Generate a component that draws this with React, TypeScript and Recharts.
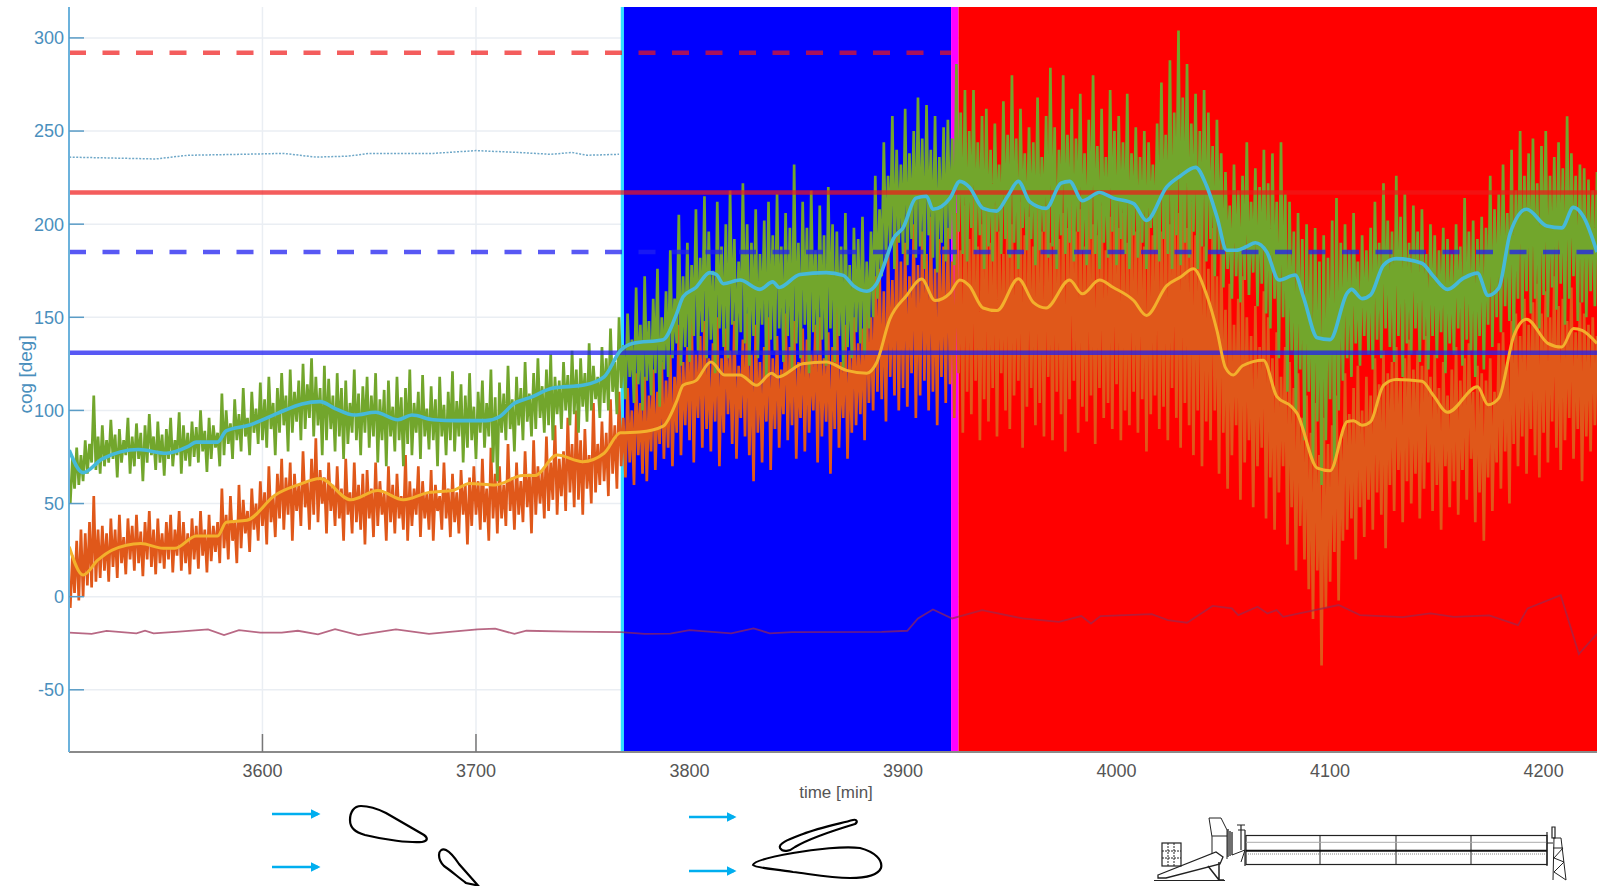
import { CartesianGrid, ComposedChart, Line, ReferenceArea, XAxis, YAxis } from "recharts";

const WIDTH = 1608;
const HEIGHT = 886;

const xTicks = [3600, 3700, 3800, 3900, 4000, 4100, 4200];
const yTicks = [-50, 0, 50, 100, 150, 200, 250, 300];

// raw signals, one sample per minute from 3510
const SAMPLE_START = 3510;

const greenSignal = [
  50, 74, 58, 80, 60, 76, 62, 84, 66, 82,
  72, 108, 68, 86, 66, 92, 70, 84, 72, 95,
  74, 87, 64, 90, 72, 84, 76, 96, 66, 86,
  70, 93, 74, 88, 62, 92, 72, 98, 76, 86,
  68, 94, 72, 87, 65, 90, 74, 96, 70, 84,
  76, 99, 66, 92, 73, 88, 70, 94, 75, 91,
  72, 100, 78, 89, 67, 96, 74, 92, 80, 88,
  70, 109, 76, 100, 82, 93, 74, 106, 84, 98,
  78, 112, 86, 96, 76, 110, 88, 101, 82, 115,
  84, 106, 80, 118, 90, 104, 76, 112, 88, 120,
  92, 108, 78, 122, 88, 110, 94, 116, 84, 125,
  90, 114, 96, 128, 86, 118, 92, 112, 76, 124,
  84, 117, 90, 108, 78, 120, 86, 112, 74, 116,
  82, 104, 88, 122, 84, 109, 76, 113, 88, 118,
  80, 108, 86, 120, 72, 106, 84, 111, 70, 116,
  86, 102, 78, 118, 84, 107, 70, 112, 82, 122,
  76, 104, 88, 110, 74, 119, 86, 101, 79, 113,
  84, 106, 70, 118, 86, 103, 76, 110, 84, 121,
  78, 105, 86, 114, 72, 108, 80, 120, 84, 102,
  74, 110, 88, 116, 80, 104, 86, 122, 72, 107,
  62, 115, 88, 109, 84, 124, 90, 106, 78, 118,
  92, 112, 84, 126, 94, 109, 86, 120, 90, 128,
  96, 113, 88, 122, 92, 130, 84, 118, 98, 116,
  90, 126, 100, 119, 92, 132, 98, 122, 88, 128,
  102, 120, 94, 136, 100, 124, 106, 118, 96, 134,
  104, 128, 100, 144, 110, 126, 98, 150, 112, 135,
  106, 152, 118, 138, 104, 166, 114, 146, 100, 172,
  116, 148, 108, 160, 120, 176, 102, 150, 122, 164,
  118, 186, 128, 160, 136, 205, 124, 172, 134, 190,
  126, 178, 140, 208, 132, 182, 142, 215, 128, 196,
  138, 175, 120, 212, 144, 188, 134, 200, 128, 218,
  146, 192, 130, 180, 142, 222, 136, 200, 124, 190,
  140, 208, 128, 184, 146, 202, 118, 212, 138, 194,
  132, 216, 144, 188, 126, 206, 140, 198, 122, 232,
  136, 190, 128, 212, 146, 198, 120, 218, 142, 186,
  130, 210, 138, 194, 124, 220, 144, 200, 126, 196,
  140, 188, 122, 206, 134, 178, 128, 198, 142, 192,
  136, 204, 130, 180, 144, 196, 150, 226, 160, 208,
  172, 244, 180, 226, 188, 258, 176, 240, 190, 232,
  184, 262, 178, 238, 192, 250, 182, 268, 188, 246,
  176, 264, 194, 240, 182, 258, 174, 236, 190, 252,
  180, 256, 192, 246, 178, 286, 196, 260, 184, 272,
  180, 250, 198, 272, 186, 244, 194, 258, 176, 262,
  188, 240, 180, 254, 196, 232, 184, 266, 192, 248,
  182, 280, 190, 246, 176, 262, 198, 238, 186, 252,
  192, 244, 178, 268, 186, 236, 196, 258, 182, 284,
  188, 252, 176, 240, 194, 280, 184, 248, 190, 262,
  180, 246, 196, 270, 186, 238, 178, 256, 192, 280,
  184, 242, 176, 262, 190, 236, 182, 272, 196, 250,
  178, 258, 192, 244, 184, 270, 176, 238, 194, 252,
  182, 236, 190, 250, 176, 244, 198, 232, 186, 254,
  180, 276, 192, 248, 184, 288, 176, 260, 194, 304,
  178, 268, 190, 286, 182, 254, 196, 270, 176, 250,
  188, 272, 180, 260, 192, 242, 172, 256, 184, 238,
  166, 228, 176, 210, 160, 232, 172, 218, 158, 226,
  170, 244, 162, 212, 174, 230, 156, 220, 168, 240,
  152, 222, 144, 238, 160, 212, 128, 244, 150, 216,
  110, 212, 132, 196, 100, 206, 122, 192, 84, 200,
  110, 186, 72, 198, 94, 180, 60, 194, 84, 182,
  106, 202, 70, 214, 100, 190, 116, 200, 128, 186,
  118, 206, 136, 180, 124, 194, 140, 186, 130, 198,
  122, 212, 138, 190, 128, 222, 144, 202, 134, 196,
  126, 226, 140, 204, 118, 216, 136, 190, 130, 210,
  144, 196, 126, 208, 138, 184, 122, 200, 140, 194,
  128, 186, 142, 198, 120, 192, 136, 184, 130, 200,
  144, 188, 124, 214, 138, 196, 132, 202, 118, 192,
  140, 204, 122, 198, 146, 226, 134, 208, 150, 216,
  142, 232, 156, 206, 148, 240, 138, 218, 160, 250,
  148, 226, 164, 238, 152, 246, 160, 222, 144, 242,
  162, 250, 150, 226, 166, 236, 154, 244, 168, 230,
  146, 258, 160, 238, 172, 226, 148, 232, 158, 230,
  150, 224, 164, 218, 156, 228,
];
const orangeSignal = [
  -6, 22, 2, 30, -2, 36, 0, 34, 6, 40,
  5, 54, 8, 36, 10, 38, 14, 34, 8, 42,
  16, 36, 10, 44, 18, 32, 12, 42, 20, 38,
  14, 44, 18, 35, 11, 40, 20, 46, 16, 36,
  12, 42, 18, 34, 15, 40, 20, 44, 13, 36,
  22, 46, 14, 40, 18, 34, 12, 42, 20, 38,
  15, 46, 22, 36, 13, 44, 19, 38, 24, 40,
  18, 58, 26, 44, 20, 54, 30, 40, 18, 60,
  26, 52, 34, 46, 24, 58, 36, 50, 30, 62,
  38, 56, 28, 70, 40, 54, 32, 66, 42, 74,
  36, 64, 44, 72, 30, 66, 46, 60, 38, 78,
  48, 62, 36, 74, 44, 85, 40, 68, 50, 64,
  34, 72, 46, 60, 38, 70, 42, 58, 30, 74,
  44, 56, 34, 72, 40, 60, 36, 66, 28, 68,
  42, 58, 32, 72, 38, 62, 44, 56, 30, 70,
  40, 60, 34, 66, 42, 54, 36, 76, 30, 62,
  38, 58, 44, 70, 32, 62, 42, 56, 36, 68,
  30, 60, 46, 54, 36, 72, 42, 58, 32, 66,
  40, 56, 34, 68, 44, 60, 28, 64, 38, 70,
  44, 62, 36, 74, 40, 58, 30, 80, 42, 66,
  34, 70, 42, 60, 38, 82, 46, 64, 36, 72,
  44, 62, 40, 78, 48, 66, 34, 84, 44, 70,
  50, 68, 42, 86, 46, 72, 52, 92, 44, 74,
  54, 78, 46, 96, 56, 82, 48, 100, 52, 84,
  44, 90, 58, 76, 50, 104, 56, 82, 60, 94,
  62, 88, 54, 106, 66, 92, 58, 110, 70, 96,
  64, 112, 72, 100, 60, 120, 76, 104, 66, 118,
  62, 108, 78, 122, 68, 110, 82, 126, 74, 116,
  80, 130, 70, 118, 88, 146, 76, 126, 92, 134,
  84, 152, 72, 130, 96, 140, 80, 148, 90, 128,
  78, 136, 94, 150, 70, 128, 88, 144, 98, 132,
  82, 148, 74, 124, 96, 138, 86, 152, 76, 130,
  62, 146, 88, 126, 72, 134, 94, 150, 68, 128,
  90, 140, 80, 122, 98, 152, 84, 134, 92, 148,
  74, 126, 96, 144, 78, 138, 88, 130, 100, 146,
  72, 150, 86, 128, 94, 142, 66, 134, 90, 156,
  80, 126, 96, 146, 74, 132, 88, 150, 92, 136,
  98, 144, 84, 160, 104, 150, 100, 172, 110, 176,
  106, 164, 94, 186, 118, 170, 108, 196, 100, 180,
  112, 190, 102, 172, 120, 200, 96, 178, 108, 196,
  116, 184, 100, 204, 110, 176, 92, 192, 118, 188,
  104, 198, 114, 180, 96, 206, 120, 186, 88, 210,
  110, 192, 98, 214, 116, 188, 84, 200, 106, 216,
  94, 190, 112, 210, 86, 196, 120, 184, 100, 218,
  90, 200, 108, 186, 116, 212, 80, 194, 102, 204,
  112, 188, 92, 216, 104, 196, 86, 208, 118, 190,
  84, 214, 110, 192, 98, 206, 78, 198, 106, 220,
  116, 196, 88, 208, 102, 188, 94, 214, 108, 200,
  82, 194, 112, 210, 96, 186, 104, 204, 90, 218,
  114, 198, 84, 206, 100, 190, 92, 212, 110, 196,
  88, 214, 106, 188, 78, 202, 98, 194, 108, 218,
  90, 196, 102, 210, 84, 200, 112, 216, 96, 206,
  80, 220, 104, 198, 92, 212, 76, 194, 100, 208,
  70, 188, 94, 176, 84, 198, 100, 172, 66, 186,
  88, 154, 58, 168, 76, 146, 92, 160, 52, 172,
  72, 150, 84, 140, 48, 156, 70, 134, 80, 164,
  42, 150, 64, 128, 36, 142, 56, 118, 70, 134,
  28, 126, 48, 112, 14, 120, 38, 96, 20, 108,
  4, 88, -12, 104, 14, 76, -37, 96, -6, 82,
  8, 92, 24, 108, -2, 84, 30, 120, 36, 98,
  42, 112, 20, 124, 48, 100, 32, 118, 52, 108,
  36, 128, 56, 114, 44, 132, 26, 120, 60, 126,
  46, 134, 68, 116, 40, 128, 62, 138, 50, 122,
  66, 132, 42, 124, 58, 140, 72, 118, 46, 130,
  60, 112, 36, 126, 70, 108, 48, 122, 62, 134,
  44, 116, 68, 128, 52, 136, 74, 110, 40, 124,
  56, 120, 30, 116, 64, 128, 46, 110, 72, 136,
  58, 142, 78, 126, 50, 148, 82, 152, 70, 140,
  86, 160, 66, 146, 90, 158, 76, 168, 64, 152,
  88, 164, 72, 150, 94, 172, 80, 156, 68, 160,
  84, 148, 96, 166, 74, 142, 90, 158, 62, 152,
  86, 146, 78, 150, 92, 140,
];

// smoothed signals, read point by point
const cyanTime = [3509.5, 3516, 3525, 3542, 3555, 3565, 3569, 3579, 3583, 3593.6, 3607, 3618.5, 3627, 3634, 3643, 3653, 3663.4, 3670, 3680, 3691, 3704.5, 3711, 3718, 3725.6, 3736, 3750.6, 3760, 3767.6, 3773.6, 3787.7, 3794, 3797, 3803, 3809.5, 3812.6, 3815.8, 3823.6, 3833, 3839, 3842, 3851.7, 3864, 3872, 3876.7, 3883, 3887.6, 3892, 3895.4, 3900, 3906, 3911, 3914, 3922, 3926.6, 3931, 3937.5, 3943.8, 3949, 3954, 3959.4, 3967, 3974, 3978, 3984, 3992, 3998.5, 4008, 4014, 4023.5, 4030, 4037, 4042, 4047, 4051.6, 4056, 4061, 4065, 4070.4, 4076, 4083.6, 4087.5, 4094, 4100, 4108, 4110, 4115, 4119, 4125, 4131, 4143, 4148.4, 4155, 4162.5, 4169, 4174, 4179, 4184.3, 4192, 4201.5, 4208.5, 4214, 4218.7, 4225];
const cyanValue = [78.7, 66.6, 74, 79, 77, 80.5, 83, 83, 89, 92, 98.4, 103.5, 104.7, 101, 97.5, 99, 95, 97.5, 95, 94.5, 94.5, 96.6, 103.8, 107, 112, 113.6, 118, 132, 136, 138, 152, 161, 166, 174, 173, 168, 170, 165, 169, 166, 173, 174, 172.5, 167, 164, 168, 181, 192, 198, 214, 215, 208, 214, 223, 220, 208.5, 207, 215, 223, 212, 208.5, 222, 223, 212.6, 217, 214, 211, 202, 220, 226, 230.5, 221, 204, 186, 186, 188, 190, 185, 170, 172.7, 161, 139, 138, 163, 165, 160, 162, 178, 181.5, 179, 172, 165, 171, 173.7, 161.7, 165.7, 195, 208, 199, 198, 209, 204, 185];
const yellowTime = [3509.5, 3516, 3523, 3529.6, 3543, 3553.5, 3559, 3569, 3579, 3583, 3592.7, 3606, 3616.6, 3627, 3641.4, 3654, 3666, 3678, 3689, 3697, 3709, 3722, 3727.5, 3738, 3750, 3760, 3767.6, 3776.7, 3787.7, 3794, 3797, 3803, 3810, 3816.5, 3823.6, 3831.4, 3838.4, 3841.5, 3853, 3864, 3873.5, 3883, 3887.6, 3893.8, 3901.6, 3908.7, 3915, 3922, 3926.6, 3931, 3937.5, 3944, 3954, 3961, 3967, 3978, 3984, 3992, 3998.5, 4008, 4014, 4023.5, 4030, 4036, 4042, 4047, 4051, 4054.7, 4059, 4068.8, 4075, 4082, 4084.4, 4094, 4100, 4108, 4111, 4115, 4119, 4125, 4131, 4143, 4148.4, 4155, 4169, 4174, 4179, 4186, 4192, 4202, 4208.5, 4214, 4218, 4225];
const yellowValue = [26.8, 11.6, 19.7, 25, 28.6, 26, 26, 32.6, 32.6, 40, 41, 54.6, 60, 63.5, 52, 57, 52, 56, 57, 60.8, 60, 65, 65, 76, 72.5, 77, 88, 88.4, 91.6, 105, 113.5, 116, 126, 119, 119, 113.5, 120, 118, 125, 126, 121.5, 120, 125.6, 149, 161.6, 170.5, 159, 163, 170, 167, 155, 153.6, 170.7, 158, 155, 170, 162.6, 170, 166, 159, 151, 167, 171.6, 176, 162.6, 143, 123, 119, 124, 127, 107.6, 102, 98.7, 69, 67.6, 94, 94.5, 92, 94, 113.5, 116.6, 115.7, 108, 99, 112.7, 103, 106.6, 140, 149, 136, 134, 144, 143, 136];
const pinkTime = [3509.5, 3520, 3527, 3541, 3545, 3549, 3561, 3574.5, 3582, 3589, 3599, 3609, 3616.6, 3626, 3634, 3645, 3662.5, 3678, 3689, 3700.7, 3709, 3718, 3723.6, 3744.7, 3768, 3779, 3791, 3800, 3819.5, 3830, 3837.6, 3848, 3890, 3902, 3907, 3914, 3923, 3937, 3956, 3973, 3983.5, 3988, 3992.5, 4016.5, 4024, 4033, 4045, 4054, 4057, 4066, 4070.7, 4075, 4078, 4104, 4114, 4134, 4147, 4158, 4174.5, 4188, 4192.5, 4208, 4216.5, 4225];
const pinkValue = [-19.3, -20, -18.4, -19.7, -18.3, -19.7, -18.8, -17.6, -20.6, -18, -19.3, -19.3, -18.3, -20.2, -17.4, -20.6, -17.6, -20, -18.8, -17.6, -17.2, -20, -18.3, -18.8, -19, -20, -19.8, -18, -19.7, -17, -19.7, -19, -18.9, -18.3, -11.7, -6.9, -11.7, -7.2, -11.7, -13.5, -10.4, -14.4, -10.4, -9.4, -12.6, -14, -5, -6.3, -9.9, -5.4, -9, -7.2, -10.8, -4.5, -9.9, -11, -9, -10.8, -10, -15.3, -6.3, 0.8, -30.8, -20];
const dottedTime = [3509.5, 3530, 3550, 3565, 3590, 3610, 3625, 3640, 3650, 3680, 3700, 3720, 3735, 3745, 3752, 3767];
const dottedValue = [236, 235.5, 235, 237, 237.5, 238, 236, 236.5, 238, 238, 239.5, 238.5, 237.5, 238.5, 237, 237.5];

const X_MIN = 3509.4;
const X_MAX = 4225;
const Y_MIN = -83.4;
const Y_MAX = 316.6;

const CYAN_START = 3767.8;
const BLUE_START = 3769.3;
const BLUE_END = 3922.5;
const MAGENTA_END = 3926;

const RED_SOLID = 217;
const RED_DASHED = 292;
const BLUE_SOLID = 131;
const BLUE_DASHED = 185;

const signal = (values: number[]) => values.map((value, i) => ({ time: SAMPLE_START + i, value }));
const zip = (time: number[], value: number[]) => time.map((t, i) => ({ time: t, value: value[i] }));
const flat = (value: number, end = X_MAX) => [
  { time: X_MIN, value },
  { time: end, value },
];

const XTick = ({ x, y, payload }: any) => (
  <g>
    {payload.value < BLUE_START && <line x1={x} x2={x} y1={y - 14} y2={y - 32} stroke="#777" strokeWidth={1.5} />}
    <text x={x} y={y + 11} textAnchor="middle" fontSize={18} fill="#555" fontFamily="Liberation Sans">
      {payload.value}
    </text>
  </g>
);

// foils and rig under the plot
const Sketches = () => (
  <svg width={WIDTH} height={HEIGHT} style={{ position: "absolute", left: 0, top: 0 }}>
    <defs>
      <marker id="arrow" markerWidth="4" markerHeight="4" refX="3" refY="2" orient="auto">
        <path d="M0 0 L4 2 L0 4Z" fill="#00aeef" />
      </marker>
    </defs>
    <g stroke="#00aeef" strokeWidth={2.5}>
      <line x1={272} x2={318} y1={814} y2={814} markerEnd="url(#arrow)" />
      <line x1={272} x2={318} y1={867} y2={867} markerEnd="url(#arrow)" />
      <line x1={689} x2={734} y1={817} y2={817} markerEnd="url(#arrow)" />
      <line x1={689} x2={734} y1={871} y2={871} markerEnd="url(#arrow)" />
    </g>
    <g fill="none" stroke="#000" strokeWidth={2.2}>
      <path d="M350 820 C350 812 354 806 361 806 C372 806 380 810 386 813 L424 835 C428 838 428 841 422 842 C410 843 385 840 365 835 C355 832 350 828 350 820Z" />
      <path d="M439 855 C439 851 442 848 446 850 C450 852 455 858 459 864 L478 885.5 L466 883 C458 877 450 870 444 866 C441 863 439 859 439 855Z" />
      <path d="M853 820 C838 824 818 828 803 834 C790 839 778 843 780 848 C783 853 790 851 795 847 C810 838 835 830 855 824 C858 822 857 819 853 820Z" />
      <path d="M753 865 C754 861 770 857 793 853 C815 849 845 846 860 848 C875 852 883 860 881 868 C878 875 868 878 850 878 C830 878 810 874 793 872 C775 869 755 868 753 865Z" />
    </g>
    <g fill="none" stroke="#222" strokeWidth={1}>
      <rect x={1246} y={835.5} width={301} height={29} strokeWidth={1.2} />
      <line x1={1320} x2={1320} y1={835.5} y2={864.5} />
      <line x1={1396} x2={1396} y1={835.5} y2={864.5} />
      <line x1={1471} x2={1471} y1={835.5} y2={864.5} />
      <line x1={1246} x2={1547} y1={842.3} y2={842.3} stroke="#aaa" />
      <line x1={1246} x2={1547} y1={850.7} y2={850.7} strokeWidth={2} stroke="#111" />
      <line x1={1246} x2={1547} y1={854} y2={854} stroke="#888" strokeDasharray="1 1" />
      <path d="M1209 818 L1221 818 L1227 830 L1227 859 M1209 818 L1212 837 L1212 854" />
      <path d="M1212 836 L1227 836" />
      <path d="M1228 829 L1228 857 M1230 831 L1230 856 M1232 832 L1232 855" strokeWidth={1.3} />
      <path d="M1237 825 L1245 825 M1241 825 L1241 850 M1238 830 L1245 830 M1245 830 L1245 866" strokeWidth={1.2} />
      <path d="M1232 855 L1245 850 L1241 862" />
      <rect x={1162} y={843} width={19} height={23} strokeWidth={1.2} />
      <path d="M1162 851 L1181 851 M1162 858 L1181 858 M1168 843 L1168 866 M1174 843 L1174 866" strokeDasharray="2 1" />
      <path d="M1158 875 L1216 852 L1223 857 L1220 864 L1166 878 L1158 878Z" strokeWidth={1.3} />
      <path d="M1208 866 L1219 880 M1219 862 L1219 880 L1224 880" strokeWidth={1.5} />
      <line x1={1154} x2={1225} y1={880.5} y2={880.5} strokeWidth={1.2} />
      <path d="M1552 827 L1555 827 L1555 838 L1552 838 Z M1547 832 L1547 866" strokeWidth={1.2} />
      <path d="M1553 838 L1561 838 L1566 880 M1554 838 L1553 880 M1553 848 L1563 848 L1554 858 L1564 862 L1554 872 L1566 880 M1547 843 L1553 843" />
    </g>
  </svg>
);

export default function App() {
  return (
    <div style={{ position: "absolute", left: 0, top: 0, width: WIDTH, height: HEIGHT, background: "#fff" }}>
      <Sketches />
      <div style={{ position: "absolute", left: 0, top: 0 }}>
        <ComposedChart width={WIDTH} height={HEIGHT} margin={{ top: 7, right: 11, bottom: 0, left: 0 }}>
          <CartesianGrid stroke="#eaeef3" strokeWidth={1.5} syncWithTicks />
          <XAxis
            dataKey="time"
            type="number"
            domain={[X_MIN, X_MAX]}
            allowDataOverflow
            ticks={xTicks}
            height={134}
            tickLine={false}
            tickSize={0}
            tickMargin={14}
            tick={<XTick />}
            axisLine={{ stroke: "#8a8a8a", strokeWidth: 2 }}
            label={{ value: "time [min]", position: "insideTop", offset: 34, dx: 3, fontSize: 17, fill: "#555", fontFamily: "Liberation Sans" }}
          />
          <YAxis
            type="number"
            domain={[Y_MIN, Y_MAX]}
            allowDataOverflow
            ticks={yTicks}
            width={69}
            tickSize={-15}
            tickMargin={20}
            tick={{ fontSize: 18, fill: "#4a8fbd", fontFamily: "Liberation Sans" }}
            tickLine={{ stroke: "#5a9cc6", strokeWidth: 1.5 }}
            axisLine={{ stroke: "#6cb2dc", strokeWidth: 2 }}
            label={{ value: "cog [deg]", angle: -90, position: "insideLeft", offset: 25, dy: 34, fontSize: 19, fill: "#4a8fbd", fontFamily: "Liberation Sans" }}
          />

          <ReferenceArea x1={CYAN_START} x2={BLUE_START} fill="#30e0ff" fillOpacity={1} stroke="none" />
          <ReferenceArea x1={BLUE_START} x2={BLUE_END} fill="#0000ff" fillOpacity={1} stroke="none" />
          <ReferenceArea x1={BLUE_END} x2={MAGENTA_END} fill="#ff00ff" fillOpacity={1} stroke="none" />
          <ReferenceArea x1={MAGENTA_END} x2={X_MAX} fill="#ff0000" fillOpacity={1} stroke="none" />

          <Line data={signal(orangeSignal)} dataKey="value" stroke="#e0581a" strokeWidth={2.7} dot={false} isAnimationActive={false} />
          <Line data={signal(greenSignal)} dataKey="value" stroke="#72a62c" strokeWidth={2.7} dot={false} isAnimationActive={false} />

          <Line data={zip(dottedTime, dottedValue)} dataKey="value" stroke="#6fa8c8" strokeWidth={1.5} strokeDasharray="2 1.5" dot={false} isAnimationActive={false} />
          <Line data={zip(pinkTime, pinkValue)} dataKey="value" stroke="#9a2850" strokeOpacity={0.7} strokeWidth={1.8} dot={false} isAnimationActive={false} />
          <Line data={flat(RED_DASHED, BLUE_END)} dataKey="value" stroke="#f01818" strokeOpacity={0.7} strokeWidth={4.5} strokeDasharray="17 16.5" dot={false} isAnimationActive={false} />
          <Line data={flat(BLUE_DASHED)} dataKey="value" stroke="#2020f0" strokeOpacity={0.75} strokeWidth={4.5} strokeDasharray="17 16.5" dot={false} isAnimationActive={false} />
          <Line data={flat(RED_SOLID)} dataKey="value" stroke="#f01818" strokeOpacity={0.7} strokeWidth={4.5} dot={false} isAnimationActive={false} />
          <Line data={flat(BLUE_SOLID)} dataKey="value" stroke="#2020f0" strokeOpacity={0.75} strokeWidth={4.5} dot={false} isAnimationActive={false} />
          <Line data={zip(cyanTime, cyanValue)} type="monotone" dataKey="value" stroke="#46b9d9" strokeWidth={3.6} dot={false} isAnimationActive={false} />
          <Line data={zip(yellowTime, yellowValue)} type="monotone" dataKey="value" stroke="#f3b02c" strokeWidth={3} dot={false} isAnimationActive={false} />
        </ComposedChart>
      </div>
    </div>
  );
}
